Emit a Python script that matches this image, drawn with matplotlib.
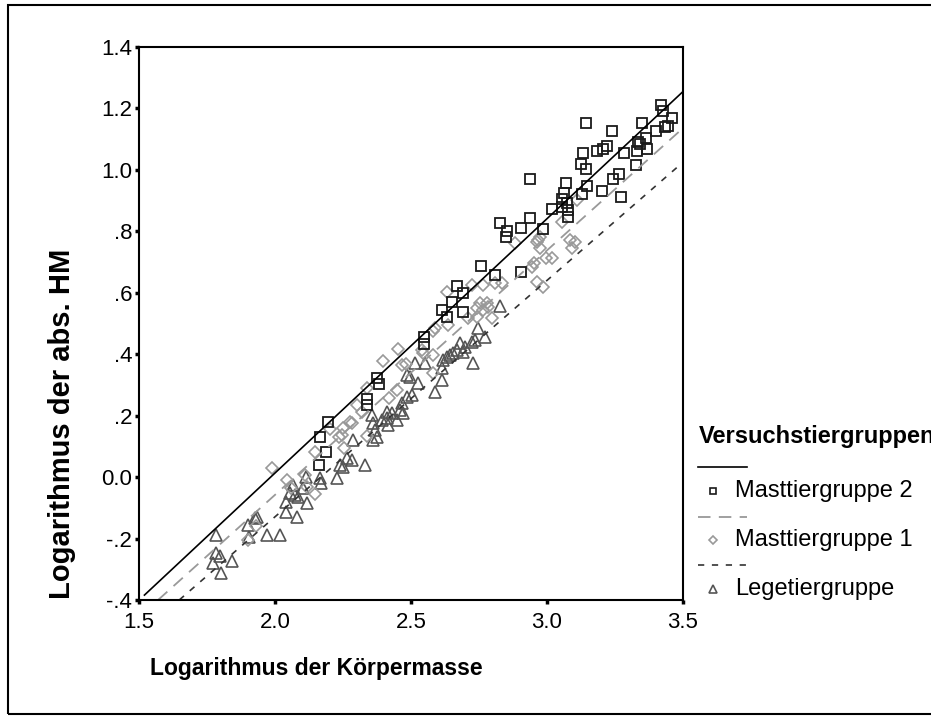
import matplotlib.pyplot as plt
from matplotlib.lines import Line2D
from matplotlib.patches import Rectangle
import numpy as np

plt.rcParams['font.family'] = ['Liberation Sans', 'DejaVu Sans']
plt.rcParams['lines.scale_dashes'] = False

# Masttiergruppe 2 (squares)
m2_x = [2.162, 2.165, 2.188, 2.194, 2.337, 2.337, 2.374, 2.382, 2.548, 2.548,
        2.615, 2.631, 2.650, 2.670, 2.690, 2.690, 2.756, 2.809, 2.903, 2.827,
        2.848, 2.854, 2.903, 2.937, 2.938, 2.984, 3.017, 3.054, 3.056, 3.062,
        3.070, 3.072, 3.078, 3.078, 3.125, 3.130, 3.131, 3.143, 3.143, 3.148,
        3.185, 3.204, 3.207, 3.222, 3.238, 3.244, 3.263, 3.271, 3.284, 3.326,
        3.332, 3.336, 3.342, 3.350, 3.364, 3.366, 3.399, 3.418, 3.425, 3.434,
        3.446, 3.458]
m2_y = [0.040, 0.130, 0.083, 0.178, 0.254, 0.235, 0.324, 0.303, 0.455, 0.432,
        0.544, 0.520, 0.570, 0.623, 0.598, 0.539, 0.688, 0.659, 0.669, 0.826,
        0.781, 0.802, 0.812, 0.843, 0.970, 0.807, 0.872, 0.878, 0.904, 0.924,
        0.956, 0.891, 0.870, 0.848, 1.018, 0.921, 1.054, 1.002, 1.151, 0.948,
        1.062, 0.930, 1.068, 1.078, 1.128, 0.970, 0.986, 0.913, 1.055, 1.016,
        1.062, 1.090, 1.083, 1.151, 1.103, 1.068, 1.128, 1.211, 1.193, 1.140,
        1.144, 1.170]

# Masttiergruppe 1 (diamonds)
m1_x = [1.902, 1.930, 1.988, 2.045, 2.060, 2.110, 2.116, 2.147, 2.147, 2.202,
        2.237, 2.245, 2.251, 2.254, 2.276, 2.282, 2.300, 2.319, 2.337, 2.337,
        2.396, 2.420, 2.447, 2.453, 2.466, 2.481, 2.539, 2.545, 2.582, 2.582,
        2.582, 2.588, 2.637, 2.631, 2.711, 2.723, 2.741, 2.741, 2.754, 2.766,
        2.778, 2.784, 2.797, 2.766, 2.809, 2.833, 2.884, 2.944, 2.953, 2.962,
        2.962, 2.968, 2.974, 2.974, 2.987, 2.998, 3.017, 3.054, 3.085, 3.091,
        3.103, 3.109]
m1_y = [-0.205, -0.160, 0.029, -0.009, -0.035, 0.007, -0.031, -0.055, 0.083, 0.156,
        0.132, 0.137, 0.159, 0.095, 0.180, 0.175, 0.235, 0.213, 0.289, 0.135,
        0.378, 0.257, 0.284, 0.417, 0.365, 0.367, 0.414, 0.405, 0.477, 0.398,
        0.338, 0.484, 0.495, 0.604, 0.517, 0.625, 0.522, 0.550, 0.566, 0.544,
        0.566, 0.555, 0.517, 0.625, 0.631, 0.633, 0.762, 0.685, 0.696, 0.766,
        0.636, 0.772, 0.783, 0.745, 0.620, 0.712, 0.712, 0.832, 0.772, 0.745,
        0.766, 0.902]

# Legetiergruppe (triangles)
lg_x = [1.771, 1.783, 1.783, 1.798, 1.800, 1.841, 1.902, 1.905, 1.926, 1.933,
        1.972, 2.018, 2.040, 2.042, 2.055, 2.067, 2.074, 2.080, 2.085, 2.102,
        2.114, 2.119, 2.165, 2.168, 2.227, 2.239, 2.251, 2.263, 2.282, 2.288,
        2.331, 2.355, 2.361, 2.361, 2.368, 2.374, 2.392, 2.410, 2.410, 2.416,
        2.429, 2.447, 2.460, 2.466, 2.472, 2.484, 2.502, 2.484, 2.496, 2.515,
        2.527, 2.551, 2.588, 2.613, 2.613, 2.619, 2.631, 2.643, 2.655, 2.668,
        2.680, 2.692, 2.699, 2.723, 2.735, 2.729, 2.747, 2.772, 2.827]
lg_y = [-0.281, -0.188, -0.248, -0.257, -0.313, -0.272, -0.156, -0.194, -0.134, -0.129,
        -0.188, -0.188, -0.080, -0.113, -0.053, -0.026, -0.058, -0.129, -0.065, -0.036,
        0.001, -0.085, -0.004, -0.020, -0.004, 0.040, 0.034, 0.061, 0.056, 0.121,
        0.040, 0.202, 0.175, 0.121, 0.153, 0.132, 0.186, 0.191, 0.213, 0.170,
        0.208, 0.186, 0.218, 0.240, 0.208, 0.262, 0.267, 0.332, 0.327, 0.370,
        0.305, 0.370, 0.276, 0.316, 0.354, 0.381, 0.392, 0.398, 0.403, 0.414,
        0.436, 0.408, 0.425, 0.441, 0.446, 0.370, 0.484, 0.457, 0.558]

# fit lines (end points)
fit_m2_x, fit_m2_y = [1.52, 3.5], [-0.384, 1.255]
fit_m1_x, fit_m1_y = [1.57, 3.5], [-0.40, 1.136]
fit_lg_x, fit_lg_y = [1.648, 3.5], [-0.40, 1.025]

xticks = [1.5, 2.0, 2.5, 3.0, 3.5]
xtick_labels = ['1.5', '2.0', '2.5', '3.0', '3.5']
yticks = [1.4, 1.2, 1.0, 0.8, 0.6, 0.4, 0.2, 0.0, -0.2, -0.4]
ytick_labels = ['1.4', '1.2', '1.0', '.8', '.6', '.4', '.2', '0.0', '-.2', '-.4']

c_m2 = '#1a1a1a'
c_m1 = '#999999'
c_lg = '#555555'

W, H = 931, 718
fig = plt.figure(figsize=(W / 100, H / 100), dpi=100)
ax = fig.add_axes([139 / W, 1 - 600 / H, (683 - 139) / W, (600 - 47) / H])

ax.plot(lg_x, lg_y, '^', ms=8, mfc='none', mec=c_lg, mew=1.2, ls='none')
ax.plot(m1_x, m1_y, 'D', ms=5.8, mfc='none', mec=c_m1, mew=1.2, ls='none')
ax.plot(m2_x, m2_y, 's', ms=6.5, mfc='none', mec=c_m2, mew=1.3, ls='none')

ax.plot(fit_m2_x, fit_m2_y, color='black', lw=1.2)
ax.plot(fit_m1_x, fit_m1_y, color=c_m1, lw=1.3, dashes=(9, 6))
ax.plot(fit_lg_x, fit_lg_y, color='#333333', lw=1.2, dashes=(4.5, 5.5))

ax.set_xlim(1.5, 3.5)
ax.set_ylim(-0.4, 1.4)
ax.set_xticks(xticks)
ax.set_xticklabels(xtick_labels)
ax.set_yticks(yticks)
ax.set_yticklabels(ytick_labels)
ax.tick_params(direction='out', length=3, width=2.5, labelsize=16, pad=2)
ax.tick_params(axis='x', pad=6)
for s in ax.spines.values():
    s.set_linewidth(1.5)

fig.text(316 / W, 1 - 668 / H, 'Logarithmus der Körpermasse', fontsize=16.5,
         fontweight='bold', ha='center', va='center')
fig.text(62 / W, 1 - 424 / H, 'Logarithmus der abs. HM', fontsize=21,
         fontweight='bold', ha='center', va='center', rotation=90)

# legend drawn in pixel positions
def fx(px):
    return px / W

def fy(py):
    return 1 - py / H

fig.text(fx(699), fy(436), 'Versuchstiergruppen', fontsize=17, fontweight='bold',
         ha='left', va='center')
fig.add_artist(Line2D([fx(698), fx(747)], [fy(467), fy(467)], color='black', lw=1.2))
fig.add_artist(Line2D([fx(698), fx(747)], [fy(517), fy(517)], color=c_m1, lw=1.3,
                      dashes=(9, 6)))
fig.add_artist(Line2D([fx(698), fx(747)], [fy(565), fy(565)], color='#333333', lw=1.2,
                      dashes=(4.5, 5.5)))
fig.add_artist(Line2D([fx(713)], [fy(491)], marker='s', ms=5, mfc='none', mec=c_m2,
                      mew=1.2, ls='none'))
fig.add_artist(Line2D([fx(713)], [fy(540)], marker='D', ms=4.5, mfc='none', mec=c_m1,
                      mew=1.2, ls='none'))
fig.add_artist(Line2D([fx(713)], [fy(589)], marker='^', ms=6, mfc='none', mec=c_lg,
                      mew=1.2, ls='none'))
for py, lab in [(491, 'Masttiergruppe 2'), (540, 'Masttiergruppe 1'), (589, 'Legetiergruppe')]:
    fig.text(fx(735), fy(py), lab, fontsize=17, ha='left', va='center')

# outer frame
fig.add_artist(Rectangle((fx(8), fy(714)), 1.2, fy(5) - fy(714), transform=fig.transFigure,
                         fill=False, ec='black', lw=1.5))

fig.savefig('out.png', dpi=100)
